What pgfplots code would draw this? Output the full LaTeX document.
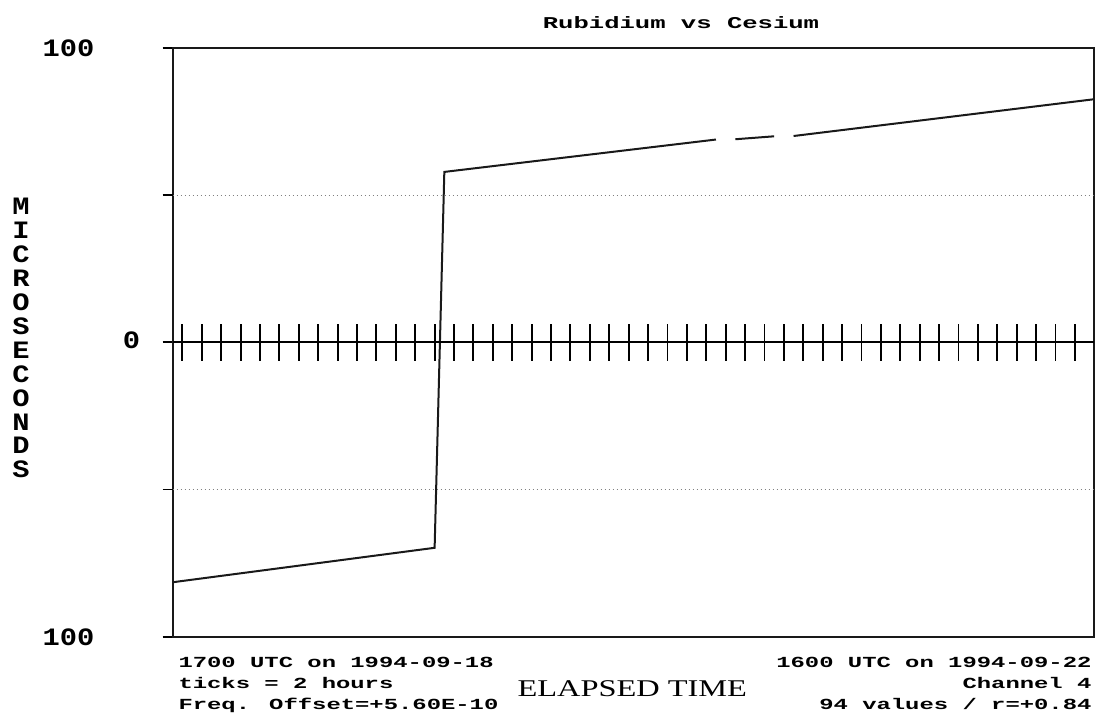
\documentclass[border=0pt]{standalone}
\usepackage{fontspec}
\setmainfont{Liberation Serif}
\newfontfamily\mono[FakeStretch=1.55]{Liberation Mono}
\newfontfamily\monobig[FakeStretch=1.15]{Liberation Mono}
\newfontfamily\wideserif[FakeStretch=1.35]{Liberation Serif}
\usepackage{pgfplots}
\pgfplotsset{compat=1.18}

\begin{document}
\begin{tikzpicture}[x=1pt,y=1pt]
\useasboundingbox (-172.7,-88.3) rectangle (929.3,636.7);
% main boxed axis: hours since 1700 UTC 1994-09-18
\begin{axis}[
  scale only axis, width=921.6pt, height=588.7pt,
  at={(0,0)}, anchor=south west,
  xmin=0, xmax=95, ymin=-100, ymax=100,
  xtick=\empty,
  ytick={-100,0,100}, yticklabels={},
  extra y ticks={-50,50}, extra y tick labels={},
  extra y tick style={grid=major},
  ytick pos=left, tick align=outside, major tick length=10pt,
  every tick/.style={black, line width=1.9pt},
  axis line style={black!90, line width=1.9pt},
  major grid style={black!50, line width=1.1pt, dash pattern=on 1.1pt off 2.9pt},
  unbounded coords=jump,
]
\addplot[black!90, line width=2pt] coordinates {
  (0,-81.5) (27,-69.8) (28,57.9) (56,68.9) (57,nan)
  (58,69.0) (62,70.0) (63,nan) (64,70.1) (95,82.6)
};
\end{axis}
% zero line with 2-hour ticks
\begin{axis}[
  scale only axis, width=921.6pt, height=588.7pt,
  at={(0,0)}, anchor=south west,
  xmin=0, xmax=95, ymin=-100, ymax=100,
  axis x line=middle, axis y line=none,
  x axis line style={-, black, line width=1.9pt},
  xtick={1,3,...,93}, xticklabels={},
  xtick align=center, major tick length=37pt,
  every tick/.style={black, line width=1.9pt},
]
\end{axis}

\node[font={\mono\bfseries\fontsize{16.5}{18}\selectfont}, anchor=base] at (508.3,607.7) {Rubidium vs Cesium};

\begin{scope}[font={\monobig\bfseries\fontsize{25}{28}\selectfont}]
\node[anchor=base east] at (-74.7,579.7) {100};
\node[anchor=base east] at (-29,287.7) {0};
\node[anchor=base east] at (-74.7,-8.3) {100};
\foreach \c [count=\i from 0] in {M,I,C,R,O,S,E,C,O,N,D,S}
  \node[anchor=base] at (-151.7,{421.7-23.9*\i}) {\c};
\end{scope}

\begin{scope}[font={\mono\bfseries\fontsize{15.4}{18}\selectfont}]
\node[anchor=base west] at (2.3,-30.3) {1700 UTC on 1994-09-18};
\node[anchor=base west] at (2.3,-51.3) {ticks = 2 hours};
\node[anchor=base west] at (2.3,-72.3) {Freq. Offset=+5.60E-10};
\node[anchor=base east] at (922.3,-30.3) {1600 UTC on 1994-09-22};
\node[anchor=base east] at (922.3,-51.3) {Channel 4};
\node[anchor=base east] at (922.3,-72.3) {94 values / r=+0.84};
\end{scope}

\node[font={\wideserif\fontsize{24}{28}\selectfont}, anchor=base] at (459.6,-60) {ELAPSED TIME};
\end{tikzpicture}
\end{document}
